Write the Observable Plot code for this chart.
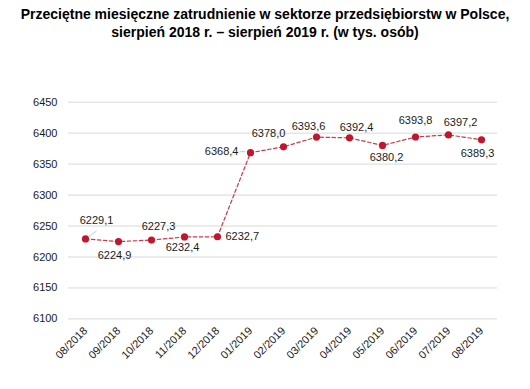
<!DOCTYPE html>
<html>
<head>
<meta charset="utf-8">
<script src="https://cdn.jsdelivr.net/npm/d3@7"></script>
<script src="https://cdn.jsdelivr.net/npm/@observablehq/plot@0.6"></script>
<style>
  body { margin: 0; background: #fff; width: 530px; height: 389px; overflow: hidden; }
  #title { font-family: "Liberation Sans", Arial, sans-serif; font-weight: bold; font-size: 14px; line-height: 18px; text-align: center; color: #000; padding-top: 5px; height: 43px; box-sizing: border-box; white-space: nowrap; }
  #chart svg { display: block; }
</style>
</head>
<body>
<div id="title">Przeciętne miesięczne zatrudnienie w sektorze przedsiębiorstw w Polsce,<br>sierpień 2018 r. – sierpień 2019 r. (w tys. osób)</div>
<div id="chart"></div>
<script>
const months = ["08/2018","09/2018","10/2018","11/2018","12/2018","01/2019","02/2019","03/2019","04/2019","05/2019","06/2019","07/2019","08/2019"];
const values = [6229.1, 6224.9, 6227.3, 6232.4, 6232.7, 6368.4, 6378.0, 6393.6, 6392.4, 6380.2, 6393.8, 6397.2, 6389.3];
const yTicks = [6100, 6150, 6200, 6250, 6300, 6350, 6400, 6450];
// label placement (pixel offsets, anchor) per point
const labelDx = [11, -4, 7, -2, 8, -12, -15, -8, 7, 4, 0, 12, -4];
const labelDy = [-18, 14, -14, 11, 0, -1, -13, -11, -10, 12, -17, -12, 14];
const labelAnchor = ["middle","middle","middle","middle","start","end","middle","middle","middle","middle","middle","middle","middle"];
// leader lines (index, from offset, to offset)
const leaders = [{i: 0, x1: 3, y1: -2, x2: 11, y2: -8}, {i: 5, x1: -11, y1: -1, x2: -5, y2: -1}];

const data = months.map((m, i) => ({m, v: values[i], dx: labelDx[i], dy: labelDy[i], a: labelAnchor[i], label: values[i].toFixed(1).replace(".", ",")}));

const fmt = d => String(d);
const red = "#c0172c";

const labelMarks = ["start","middle","end"].map(a =>
  Plot.text(data.filter(d => d.a === a), {
    x: "m", y: "v", text: "label", textAnchor: a,
    fontSize: 11, fill: "#1a1a1a",
    render: (index, scales, values, dims, ctx, next) => {
      const g = next(index, scales, values, dims, ctx);
      const sub = data.filter(d => d.a === a);
      d3.select(g).selectAll("text").each(function(_, k) {
        const d = sub[index[k]];
        const t = d3.select(this);
        const tr = t.attr("transform") || "";
        t.attr("transform", tr + ` translate(${d.dx},${d.dy})`);
      });
      return g;
    }
  })
);

const leaderData = leaders.map(l => ({...data[l.i], l}));

const chart = Plot.plot({
  width: 530,
  height: 341,
  marginTop: 58.7,
  marginBottom: 65.6,
  marginLeft: 68,
  marginRight: 33,
  style: { fontFamily: "Liberation Sans, Arial, sans-serif", fontSize: "11px", color: "#1a1a1a", background: "#fff" },
  x: { type: "point", domain: months, padding: 0.5, label: null },
  y: { domain: [6100, 6450], label: null },
  marks: [
    Plot.gridY(yTicks, { stroke: "#d9d9d9", strokeOpacity: 1, strokeWidth: 1 }),
    Plot.axisY(yTicks, { tickSize: 0, tickPadding: 11, tickFormat: fmt, fontSize: 11, fill: "#1a1a1a", label: null }),
    Plot.axisX({ tickSize: 0, tickRotate: -45, tickPadding: 10, fontSize: 11, fill: "#1a1a1a", label: null }),
    Plot.line(data, { x: "m", y: "v", stroke: red, strokeWidth: 1.2, strokeDasharray: "3.5,2.5", strokeOpacity: 0.85 }),
    Plot.link(leaderData, { x1: "m", y1: "v", x2: "m", y2: "v", stroke: "#c8c8c8", strokeWidth: 1,
      render: (index, scales, values, dims, ctx, next) => {
        const g = next(index, scales, values, dims, ctx);
        d3.select(g).selectAll("path").each(function(_, k) {
          const l = leaderData[index[k]].l;
          const p = d3.select(this).attr("d");
          const m = /M([\d.\-]+),([\d.\-]+)/.exec(p);
          const x = +m[1], y = +m[2];
          d3.select(this).attr("d", `M${x+l.x1},${y+l.y1}L${x+l.x2},${y+l.y2}`);
        });
        return g;
      }
    }),
    Plot.dot(data, { x: "m", y: "v", r: 3.6, fill: red }),
    ...labelMarks
  ]
});
document.getElementById("chart").appendChild(chart);
</script>
</body>
</html>
